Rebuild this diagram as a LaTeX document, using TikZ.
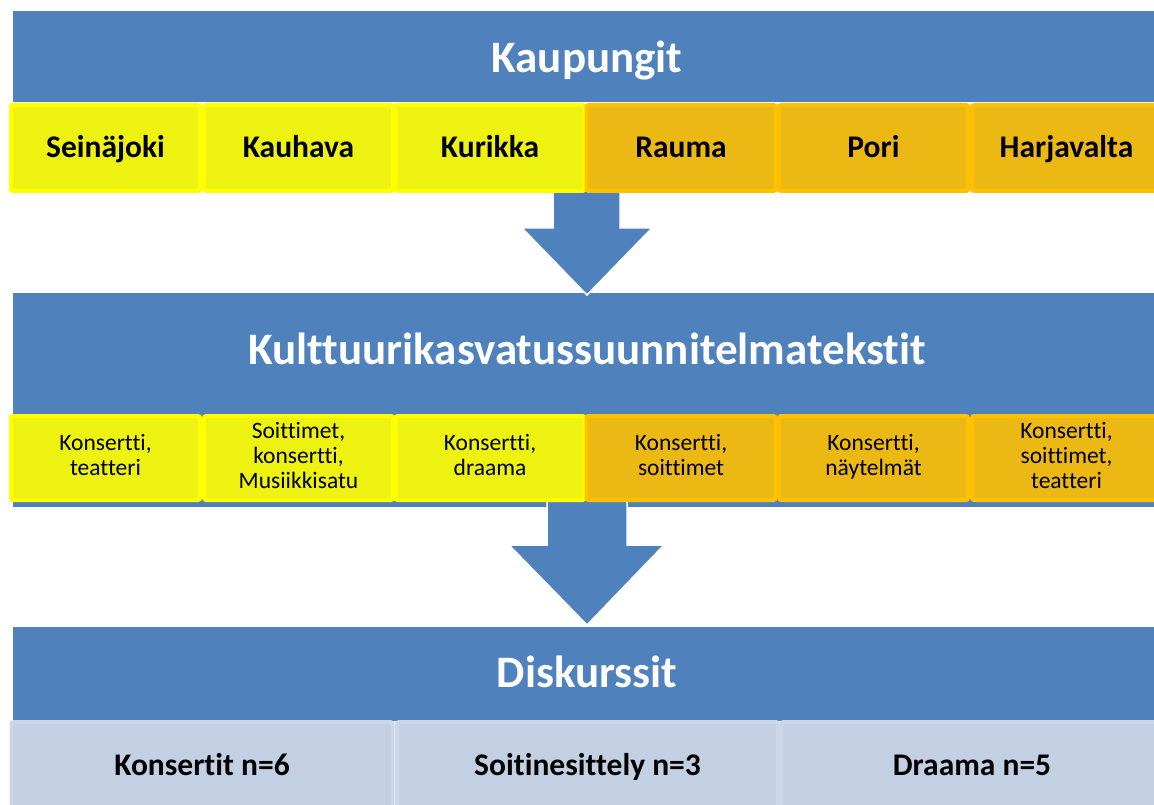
\documentclass[tikz,border=0pt]{standalone}
\usepackage{fontspec}
\setmainfont{Carlito}[Ligatures={NoCommon}]
\definecolor{barblue}{HTML}{4F81BD}
\definecolor{yelfill}{HTML}{EEF210}
\definecolor{yelline}{HTML}{FFFF00}
\definecolor{orfill}{HTML}{ECB814}
\definecolor{orline}{HTML}{FFC000}
\definecolor{lbfill}{HTML}{C3CFE2}
\definecolor{lbline}{HTML}{CDD6E7}
\begin{document}
\begin{tikzpicture}[x=1pt,y=-1pt,
  bar/.style={fill=barblue, draw=none, inner sep=0pt, outer sep=0pt, anchor=north west},
  bartitle/.style={text=white, font=\fontsize{45}{54}\selectfont\bfseries, inner sep=0pt, text height=35pt, text depth=6pt},
  cellbase/.style={line width=4pt, rounded corners=2pt, inner sep=0pt, outer sep=0pt},
  cellY/.style={cellbase, fill=yelfill, draw=yelline},
  cellO/.style={cellbase, fill=orfill, draw=orline},
  bigtext/.style={font=\fontsize{31.5}{38}\selectfont\bfseries, text height=26pt, text depth=6pt},
  cellL/.style={cellbase, fill=lbfill, draw=lbline, minimum width=381pt, minimum height=86pt, bigtext},
  cityrow/.style={minimum width=189pt, minimum height=86pt, bigtext},
  textrow/.style={minimum width=189pt, minimum height=84pt, align=center, font=\fontsize{23.5}{25}\selectfont},
  blockarrow/.style={fill=barblue, draw=white, line width=1.5pt, line join=miter}
]
\useasboundingbox (0,0) rectangle (1154,805);
\clip (0,0) rectangle (1154,805);
\fill[white] (0,0) rectangle (1154,805);

% bars
\node[bar, minimum width=1150pt, minimum height=91pt] (bar1) at (13,11) {};
\node[bar, minimum width=1150pt, minimum height=214pt] (bar2) at (13,293) {};
\node[bar, minimum width=1150pt, minimum height=94pt] (bar3) at (13,627) {};

\node[bartitle] (t1) at (587,58) {Kaupungit};
\node[bartitle] (t2) at (587,350) {Kulttuurikasvatussuunnitelmatekstit};
\node[bartitle] (t3) at (587,673) {Diskurssit};

% arrows
\draw[blockarrow] (553,190) -- (620,190) -- (620,228) -- (652,228) -- (587,295)
  -- (522,228) -- (553,228) -- cycle;
\draw[blockarrow] (547,500) -- (627,500) -- (627,545) -- (664,545) -- (587,625)
  -- (509,545) -- (547,545) -- cycle;

% city row
\node[cellY, cityrow] (c1) at (105.5,148) {Seinäjoki};
\node[cellY, cityrow] (c2) at (298.5,148) {Kauhava};
\node[cellY, cityrow] (c3) at (490,148) {Kurikka};
\node[cellO, cityrow] (c4) at (681,148) {Rauma};
\node[cellO, cityrow] (c5) at (873.5,148) {Pori};
\node[cellO, cityrow] (c6) at (1066.5,148) {Harjavalta};

% text row
\node[cellY, textrow] (d1) at (105.5,458) {\strut Konsertti,\\\strut teatteri};
\node[cellY, textrow] (d2) at (298.5,458) {\strut Soittimet,\\\strut konsertti,\\\strut Musiikkisatu};
\node[cellY, textrow] (d3) at (490,458) {\strut Konsertti,\\\strut draama};
\node[cellO, textrow] (d4) at (681,458) {\strut Konsertti,\\\strut soittimet};
\node[cellO, textrow] (d5) at (873.5,458) {\strut Konsertti,\\\strut näytelmät};
\node[cellO, textrow] (d6) at (1066.5,458) {\strut Konsertti,\\\strut soittimet,\\\strut teatteri};

% discourse row
\node[cellL] (e1) at (202,765) {Konsertit n=6};
\node[cellL] (e2) at (587.5,765) {Soitinesittely n=3};
\node[cellL] (e3) at (972,765) {Draama n=5};
\end{tikzpicture}
\end{document}
